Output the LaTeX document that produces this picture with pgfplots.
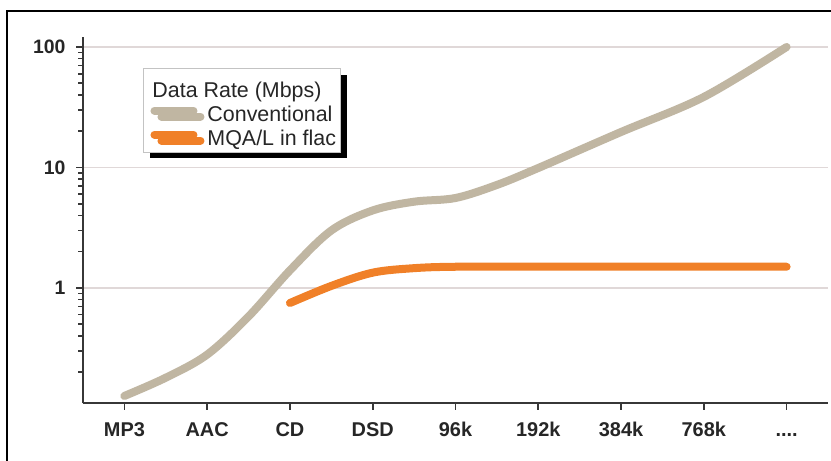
\documentclass[border=0pt]{standalone}
\usepackage{pgfplots}
\pgfplotsset{compat=1.18}
\usepackage{fontspec}
\setmainfont{Liberation Sans}
\usetikzlibrary{shadows}
\definecolor{conv}{RGB}{192,182,162}
\definecolor{mqa}{RGB}{240,128,40}
\definecolor{gridc}{RGB}{224,216,216}
\definecolor{axc}{RGB}{55,55,55}
\definecolor{legc}{RGB}{195,195,195}
\newcommand{\fourdots}{\vphantom{0}.{}.{}.{}.}
\begin{document}
\begin{tikzpicture}
\useasboundingbox (0bp,0bp) rectangle (831bp,461bp);
\clip (0bp,0bp) rectangle (831bp,461bp);
\fill[white] (0bp,0bp) rectangle (831bp,461bp);
\draw[black, line width=2.5bp] (7bp,-20bp) -- (7bp,450bp) -- (850bp,450bp);
% minor y ticks
\begin{axis}[
  at={(83bp,58bp)}, anchor=south west,
  scale only axis, width=745bp, height=366bp,
  ymode=log, ymin=0.111, ymax=121,
  xmin=-0.5, xmax=8.5,
  axis x line*=bottom, axis y line*=left,
  axis line style={axc, line width=1.6bp},
  every tick/.style={axc, line width=1.6bp},
  tick align=outside, ytick pos=left,
  xtick=\empty,
  ytick={0.2,0.3,0.4,0.5,0.6,0.7,0.8,0.9,2,3,4,5,6,7,8,9,20,30,40,50,60,70,80,90},
  yticklabels={},
  major tick length=5bp]
\addplot[draw=none] coordinates {(0,1) (8,1)};
\end{axis}
\begin{axis}[
  at={(83bp,58bp)}, anchor=south west,
  scale only axis, width=745bp, height=366bp,
  ymode=log, ymin=0.111, ymax=121,
  xmin=-0.5, xmax=8.5,
  axis x line*=bottom, axis y line*=left,
  axis line style={axc, line width=1.6bp},
  every tick/.style={axc, line width=1.6bp},
  tick align=outside, ytick pos=left,
  xtick={0,1,2,3,4,5,6,7,8},
  xticklabels={MP3,AAC,CD,DSD,96k,192k,384k,768k,\fourdots},
  ytick={1,10,100}, yticklabels={1,10,100},
  major tick length=7bp,
  ymajorgrids, major grid style={gridc, line width=1.4bp},
  xticklabel style={font=\fontsize{20}{22}\selectfont\bfseries, text=black!85, yshift=-9bp},
  yticklabel style={font=\fontsize{19.5}{22}\selectfont\bfseries, text=black!85, xshift=-7bp},
  clip=false,
  legend cell align=left,
  legend style={at={(0.0805,0.915)}, anchor=north west, draw=legc, line width=1bp, fill=white,
    font=\fontsize{21.5}{23}\selectfont, text=black!85,
    general shadow={fill=black, shadow xshift=7bp, shadow yshift=-6bp},
    inner xsep=3bp, inner ysep=4bp, row sep=5bp,
    nodes={inner sep=1bp}},
  legend image code/.code={\path (0bp,0bp) (52bp,0bp);\draw[#1] (4bp,4bp) -- (43bp,4bp);},
]
\addlegendimage{empty legend}
\addlegendentry{\rule{0pt}{24bp}\hspace{-55bp}Data Rate (Mbps)}
\addplot[conv, line width=8bp, line cap=round, smooth, tension=0.55] coordinates {
 (0,0.127) (0.5,0.18) (1,0.28) (1.5,0.58) (2,1.4) (2.5,3.0) (3,4.4) (3.5,5.2) (4,5.58) (4.5,7.16) (5,9.9) (6,19.7) (7,38.5) (8,100)
};
\addlegendentry{Conventional}
\addplot[mqa, line width=8bp, line cap=round, smooth, tension=0.55] coordinates {
 (2,0.75) (2.5,1.04) (3,1.34) (3.5,1.46) (4,1.5) (5,1.5) (6,1.5) (7,1.5) (8,1.5)
};
\addlegendentry{MQA/L in flac}
\end{axis}
\end{tikzpicture}
\end{document}
